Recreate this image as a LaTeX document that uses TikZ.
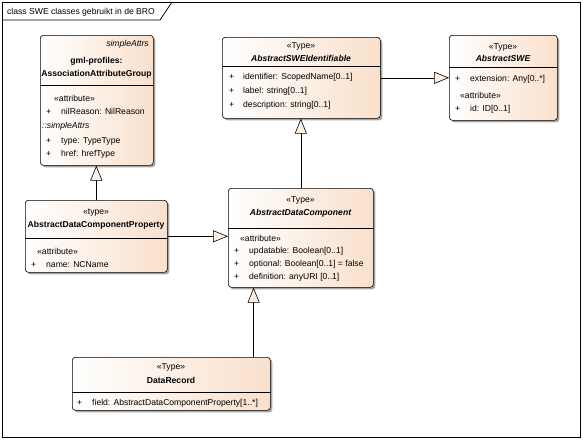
\documentclass[tikz,border=0pt]{standalone}
\usepackage{fontspec}
\setmainfont{Liberation Sans}
\usetikzlibrary{arrows.meta,shadows}

\definecolor{peach}{RGB}{249,224,204}
\definecolor{trifill}{RGB}{253,240,228}

\tikzset{
  umlbox/.style={draw, rounded corners=3pt, left color=white, right color=peach,
    inner sep=0pt, anchor=north west, line width=0.6pt,
    drop shadow={shadow xshift=2pt, shadow yshift=-2pt, fill=black!35, opacity=1}},
  txt/.style={inner sep=0pt, font=\fontsize{8.6}{10}\selectfont},
  stereo/.style={txt, anchor=base},
  cname/.style={txt, anchor=base, font=\fontsize{8.6}{10}\selectfont\bfseries},
  aname/.style={txt, anchor=base, font=\fontsize{8.6}{10}\selectfont\bfseries\itshape},
  attr/.style={txt, anchor=base west},
  plus/.style={txt, anchor=base west},
  gen/.style={draw, line width=0.6pt, -{Triangle[length=15pt, width=12pt, fill=trifill]}},
}

\begin{document}
\begin{tikzpicture}[x=1pt,y=-1pt]
\useasboundingbox (0,0) rectangle (584,442);

% frame
\draw[line width=0.7pt] (2,2) rectangle (580,437);
\draw[line width=0.7pt] (2,20) -- (160,20) -- (172,2);
\node[attr] (title) at (7,14) {class SWE classes gebruikt in de BRO};

% gml-profiles:AssociationAttributeGroup
\node[umlbox, minimum width=113pt, minimum height=130pt] (gml) at (40,35) {};
\draw[line width=0.6pt] (gml.west |- 0,85) -- (gml.east |- 0,85);
\node[txt, anchor=base east, font=\fontsize{8.6}{10}\selectfont\itshape] (gmltag) at (149,46) {simpleAttrs};
\node[cname] (gmlpkg) at (96.5,63) {gml-profiles:};
\node[cname] (gmlname) at (96.5,76) {AssociationAttributeGroup};
\node[attr] (gmlst) at (54,101) {«attribute»};
\node[plus] (gmlp1) at (46,114) {+};
\node[attr] (gmla1) at (61,114) {nilReason: NilReason};
\node[attr, font=\fontsize{8.6}{10}\selectfont\itshape] (gmlsub) at (42,128) {::simpleAttrs};
\node[plus] (gmlp2) at (46,143) {+};
\node[attr] (gmla2) at (61,143) {type: TypeType};
\node[plus] (gmlp3) at (46,156) {+};
\node[attr] (gmla3) at (61,156) {href: hrefType};

% AbstractSWEIdentifiable
\node[umlbox, minimum width=158pt, minimum height=81pt] (ident) at (222,37) {};
\draw[line width=0.6pt] (ident.west |- 0,66) -- (ident.east |- 0,66);
\node[stereo] (identst) at (301,48) {«Type»};
\node[aname] (identname) at (301,61) {AbstractSWEIdentifiable};
\node[plus] (identp1) at (229,79) {+};
\node[attr] (identa1) at (243,79) {identifier: ScopedName[0..1]};
\node[plus] (identp2) at (229,93) {+};
\node[attr] (identa2) at (243,93) {label: string[0..1]};
\node[plus] (identp3) at (229,107) {+};
\node[attr] (identa3) at (243,107) {description: string[0..1]};

% AbstractSWE
\node[umlbox, minimum width=108pt, minimum height=85pt] (swe) at (449,35) {};
\draw[line width=0.6pt] (swe.west |- 0,67) -- (swe.east |- 0,67);
\node[stereo] (swest) at (503,49) {«Type»};
\node[aname] (swename) at (503,61) {AbstractSWE};
\node[plus] (swep1) at (455,81) {+};
\node[attr] (swea1) at (470,81) {extension: Any[0..*]};
\node[attr] (swest2) at (460,98) {«attribute»};
\node[plus] (swep2) at (455,111) {+};
\node[attr] (swea2) at (470,111) {id: ID[0..1]};

% AbstractDataComponentProperty
\node[umlbox, minimum width=142pt, minimum height=72pt] (adcp) at (25,200) {};
\draw[line width=0.6pt] (adcp.west |- 0,238) -- (adcp.east |- 0,238);
\node[stereo] (adcpst) at (96,214) {«type»};
\node[cname] (adcpname) at (96,227) {AbstractDataComponentProperty};
\node[attr] (adcpst2) at (37,254) {«attribute»};
\node[plus] (adcpp1) at (31,267) {+};
\node[attr] (adcpa1) at (46,267) {name: NCName};

% AbstractDataComponent
\node[umlbox, minimum width=145pt, minimum height=99pt] (adc) at (228,188) {};
\draw[line width=0.6pt] (adc.west |- 0,228) -- (adc.east |- 0,228);
\node[stereo] (adcst) at (300.5,202) {«Type»};
\node[aname] (adcname) at (300.5,215) {AbstractDataComponent};
\node[attr] (adcst2) at (240,241) {«attribute»};
\node[plus] (adcp1) at (234,253) {+};
\node[attr] (adca1) at (249,253) {updatable: Boolean[0..1]};
\node[plus] (adcp2) at (234,266) {+};
\node[attr] (adca2) at (249,266) {optional: Boolean[0..1] = false};
\node[plus] (adcp3) at (234,279) {+};
\node[attr] (adca3) at (249,279) {definition: anyURI [0..1]};

% DataRecord
\node[umlbox, minimum width=198pt, minimum height=53pt] (dr) at (72,357) {};
\draw[line width=0.6pt] (dr.west |- 0,392) -- (dr.east |- 0,392);
\node[stereo] (drst) at (171,369) {«Type»};
\node[cname] (drname) at (171,383) {DataRecord};
\node[plus] (drp1) at (77,405) {+};
\node[attr] (dra1) at (92,405) {field: AbstractDataComponentProperty[1..*]};

% generalisations
\path[gen] (adcp.north) -- (adcp.north |- gml.south);
\path[gen] (adc.north) -- (adc.north |- ident.south);
\path[gen] (ident.east) -- (ident.east -| swe.west);
\path[gen] (adcp.east) -- (adcp.east -| adc.west);
\path[gen] ([xshift=-17pt]dr.north east) -- ([xshift=-17pt]dr.north east |- adc.south);
\end{tikzpicture}
\end{document}
